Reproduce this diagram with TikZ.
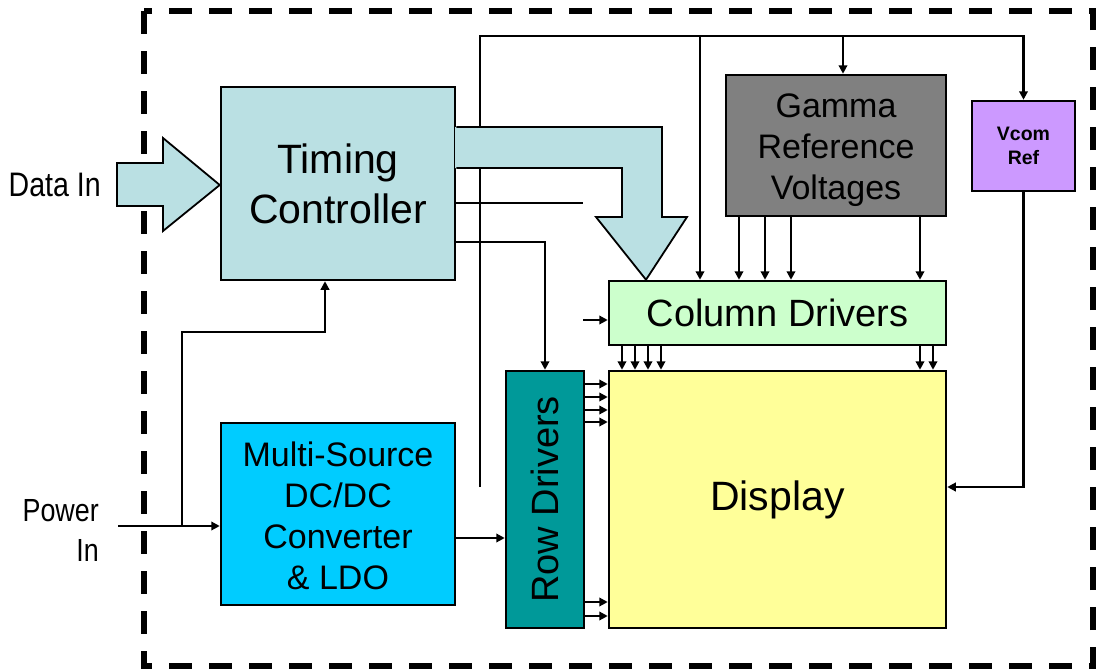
\documentclass[tikz,border=0pt]{standalone}
\usepackage{fontspec}
\setmainfont{Liberation Sans}
\newfontfamily\narrowfont[FakeStretch=0.84]{Liberation Sans}
\usetikzlibrary{arrows.meta}
\definecolor{tcblue}{RGB}{186,224,227}
\definecolor{gammagray}{RGB}{128,128,128}
\definecolor{vcomlilac}{RGB}{204,153,255}
\definecolor{colgreen}{RGB}{204,255,204}
\definecolor{dispyellow}{RGB}{255,255,153}
\definecolor{rowteal}{RGB}{0,153,153}
\definecolor{dccyan}{RGB}{0,204,255}
\tikzset{
  blk/.style={draw=black, line width=2.5pt, inner sep=0pt, align=center},
  txt/.style={inner sep=0pt, align=center},
  wire/.style={line width=2.2pt},
  arr/.style={wire, -{Triangle[length=8.5pt,width=8.5pt]}},
  fatline/.style={draw=black, line width=1.8pt, line join=miter},
  frame/.style={line width=5.5pt, dash pattern=on 23pt off 17pt},
}
\begin{document}
\begin{tikzpicture}[x=1pt,y=-1pt]
% page area
\useasboundingbox[fill=white] (0,0) rectangle (1096,672);

% system boundary
\draw[frame] (144,11) -- (144,666) -- (1093,666) -- (1093,11) -- cycle;

% blocks
\node[blk, fill=tcblue, minimum width=234, minimum height=193,
      font=\fontsize{41}{50}\selectfont] (tc) at (338,183.5) {Timing\\Controller};
\node[blk, fill=gammagray, minimum width=220, minimum height=141] (gamma) at (836,145.5) {};
\node[txt, font=\fontsize{34}{41}\selectfont] (gammatext) at ([yshift=-5pt]gamma.center)
      {Gamma\\Reference\\Voltages};
\node[blk, fill=vcomlilac, minimum width=103, minimum height=90,
      font=\fontsize{19.5}{24}\selectfont\bfseries] (vcom) at (1023.5,146) {Vcom\\Ref};
\node[blk, fill=colgreen, minimum width=337, minimum height=64,
      font=\fontsize{38}{44}\selectfont] (coldrv) at (777.5,313) {Column Drivers};
\node[blk, fill=dispyellow, minimum width=337, minimum height=257,
      font=\fontsize{41}{49}\selectfont] (display) at (777.5,499.5) {Display};
\node[blk, fill=rowteal, minimum width=78, minimum height=257,
      font=\fontsize{38}{45}\selectfont] (rowdrv) at (545,499.5) {\rotatebox{90}{Row Drivers}};
\node[blk, fill=dccyan, minimum width=234, minimum height=182] (dcdc) at (338,514) {};
\node[txt, font=\fontsize{34}{41}\selectfont] (dcdctext) at ([yshift=-2pt]dcdc.center)
      {Multi-Source\\DC/DC\\Converter\\\& LDO};

% external labels
\node[inner sep=0pt, anchor=east, font=\narrowfont\fontsize{34}{40}\selectfont] (datain) at (101,185) {Data In};
\node[inner sep=0pt, anchor=east, align=right, font=\narrowfont\fontsize{32}{40}\selectfont] (powerin) at (99,530) {Power\\In};

% free ends
\coordinate (pin) at (118,526);
\coordinate (busend) at (480,487);
\coordinate (bus) at (480,36);
\coordinate (clkend) at (583,203);
\coordinate (colin) at (583,320);

% reference bus along the top
\draw[arr] (busend) -- (bus) -| (vcom.north);
\draw[arr] (700,0 |- bus) -- (700,0 |- coldrv.north);
\draw[arr] (843,0 |- bus) -- (843,0 |- gamma.north);

% gamma taps into the column drivers
\foreach \gx in {739,765,791,920}
  \draw[arr] (\gx,0 |- gamma.south) -- (\gx,0 |- coldrv.north);

% column drivers into the display
\foreach \cx in {622,635,648,661,920,933}
  \draw[arr] (\cx,0 |- coldrv.south) -- (\cx,0 |- display.north);

% row drivers into the display
\foreach \ry in {384,397,410,422,602,616}
  \draw[arr] (rowdrv.east |- 0,\ry) -- (display.west |- 0,\ry);

% timing controller outputs
\draw[wire] (tc.east |- clkend) -- (clkend);
\draw[arr] (tc.east |- 0,242) -| (rowdrv.north);
\draw[arr] (colin) -- (coldrv.west |- colin);

% Vcom to the display
\draw[arr] (vcom.south) |- (display.east |- 0,487);

% power distribution
\draw[arr] (pin) -- (dcdc.west |- pin);
\draw[arr] (182,0 |- pin) |- (325,332) -- (325,0 |- tc.south);
\draw[arr] (dcdc.east |- 0,538) -- (rowdrv.west |- 0,538);

% wide data arrow into the timing controller
\filldraw[fill=tcblue, fatline] (117,163) -- (163,163) -- (163,138) -- (tc.west |- 0,185)
  -- (163,231) -- (163,206) -- (117,206) -- cycle;

% wide data arrow from the timing controller to the column drivers
\fill[tcblue] ([xshift=-1.2pt]tc.east |- 0,127) -- (662,127) -- (662,217) -- (687,217)
  -- (646,0 |- coldrv.north) -- (596,217) -- (622,217) -- (622,168)
  -- ([xshift=-1.2pt]tc.east |- 0,168) -- cycle;
\draw[fatline] (tc.east |- 0,127) -- (662,127) -- (662,217) -- (687,217)
  -- (646,0 |- coldrv.north) -- (596,217) -- (622,217) -- (622,168)
  -- (tc.east |- 0,168);
\end{tikzpicture}
\end{document}
